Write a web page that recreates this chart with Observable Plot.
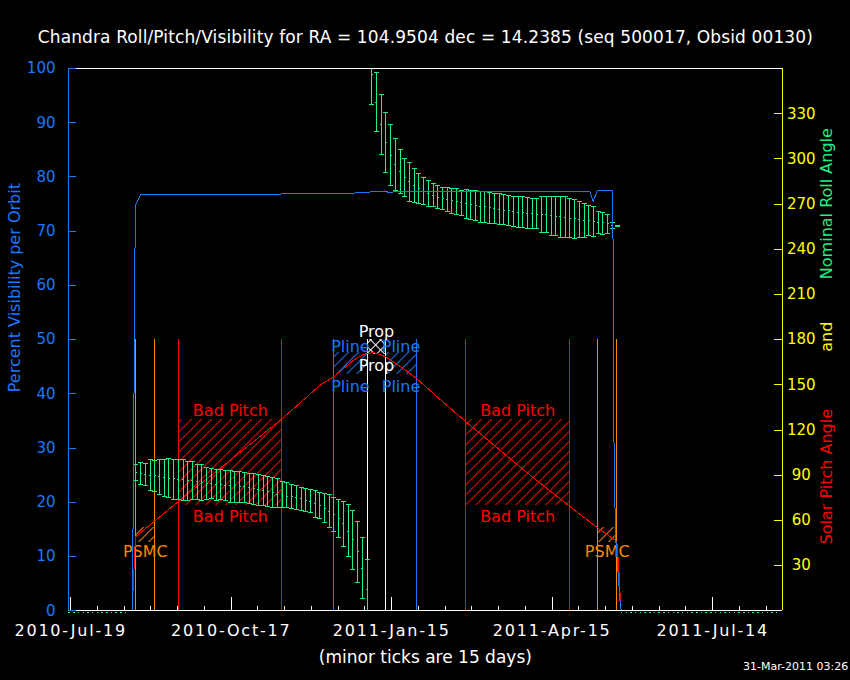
<!DOCTYPE html>
<html>
<head>
<meta charset="utf-8">
<script src="https://cdn.jsdelivr.net/npm/d3@7"></script>
<script src="https://cdn.jsdelivr.net/npm/@observablehq/plot@0.6"></script>
<style>
  html, body { margin: 0; padding: 0; background: #000; }
  #chart svg { display: block; }
  #chart svg line, #chart svg path, #chart svg rect { shape-rendering: crispEdges; }
</style>
</head>
<body>
<svg width="0" height="0" style="position:absolute">
  <defs>
    <pattern id="hatchRed" patternUnits="userSpaceOnUse" width="7.07" height="7.07" patternTransform="rotate(45)">
      <line x1="0.5" y1="0" x2="0.5" y2="7.07" stroke="#ff0000" stroke-width="1"/>
    </pattern>
    <pattern id="hatchOrange" patternUnits="userSpaceOnUse" width="7.07" height="7.07" patternTransform="rotate(45)">
      <line x1="0.5" y1="0" x2="0.5" y2="7.07" stroke="#ff8800" stroke-width="1"/>
    </pattern>
    <pattern id="hatchBlue" patternUnits="userSpaceOnUse" width="7.07" height="7.07" patternTransform="rotate(45)">
      <line x1="0.5" y1="0" x2="0.5" y2="7.07" stroke="#1a78ff" stroke-width="1"/>
    </pattern>
    <pattern id="hatchWhiteA" patternUnits="userSpaceOnUse" width="7.07" height="7.07" patternTransform="rotate(45)">
      <line x1="0.5" y1="0" x2="0.5" y2="7.07" stroke="#ffffff" stroke-width="1"/>
    </pattern>
    <pattern id="hatchWhiteB" patternUnits="userSpaceOnUse" width="7.07" height="7.07" patternTransform="rotate(-45)">
      <line x1="0.5" y1="0" x2="0.5" y2="7.07" stroke="#ffffff" stroke-width="1"/>
    </pattern>
  </defs>
</svg>
<div id="chart"></div>
<script>
// ---------------- DATA ----------------
const titleText = "Chandra Roll/Pitch/Visibility for RA = 104.9504 dec = 14.2385 (seq 500017, Obsid 00130)";
const leftLabel = "Percent Visibility per Orbit";
const rightLabels = ["Nominal Roll Angle", "and", "Solar Pitch Angle"];
const minorNote = "(minor ticks are 15 days)";
const stampText = "31-Mar-2011 03:26";

const xDomain = ["2010-07-17 18", "2011-08-21 23"];
const majorTickDates = ["2010-07-19", "2010-10-17", "2011-01-15", "2011-04-15", "2011-07-14"];
const minorTickStepDays = 15;
const leftTicks = [0, 10, 20, 30, 40, 50, 60, 70, 80, 90, 100];
const rightTicks = [30, 60, 90, 120, 150, 180, 210, 240, 270, 300, 330];
const rightMax = 360;

// Nominal roll angle per orbit (degrees): min / max / nominal
const rollDates = [
 "2010-08-24 12","2010-08-27 04","2010-08-29 19","2010-09-01 11","2010-09-04 02","2010-09-06 18","2010-09-09 09","2010-09-12 00","2010-09-14 16","2010-09-17 07",
 "2010-09-19 23","2010-09-22 15","2010-09-25 06","2010-09-27 22","2010-09-30 13","2010-10-03 05","2010-10-05 20","2010-10-08 12","2010-10-11 03","2010-10-13 18",
 "2010-10-16 10","2010-10-19 02","2010-10-21 17","2010-10-24 09","2010-10-27 00","2010-10-29 16","2010-11-01 07","2010-11-03 23","2010-11-06 14","2010-11-09 06",
 "2010-11-11 21","2010-11-14 13","2010-11-17 04","2010-11-19 20","2010-11-22 11","2010-11-25 03","2010-11-27 18","2010-11-30 10","2010-12-03 01","2010-12-05 17",
 "2010-12-08 08","2010-12-11 00","2010-12-13 15","2010-12-16 07","2010-12-18 22","2010-12-21 14","2010-12-24 05","2010-12-26 21","2010-12-29 12","2011-01-01 04",
 "2011-01-03 19","2011-01-06 11","2011-01-09 02","2011-01-11 18","2011-01-14 09","2011-01-17 01","2011-01-19 16","2011-01-22 08","2011-01-24 23","2011-01-27 15",
 "2011-01-30 06","2011-02-01 22","2011-02-04 13","2011-02-07 05","2011-02-09 20","2011-02-12 12","2011-02-15 03","2011-02-17 19","2011-02-20 10","2011-02-23 02",
 "2011-02-25 17","2011-02-28 09","2011-03-03 00","2011-03-05 16","2011-03-08 07","2011-03-10 23","2011-03-13 14","2011-03-16 06","2011-03-18 21","2011-03-21 13",
 "2011-03-24 04","2011-03-26 20","2011-03-29 11","2011-04-01 03","2011-04-03 18","2011-04-06 10","2011-04-09 01","2011-04-11 17","2011-04-14 08","2011-04-17 00",
 "2011-04-19 15","2011-04-22 07","2011-04-24 22","2011-04-27 14","2011-04-30 05","2011-05-02 21","2011-05-05 12","2011-05-08 04","2011-05-10 19","2011-05-13 11",
 "2011-05-16 02","2011-05-18 18","2011-05-21 09"
];
const rollMax = [
 97.3, 98.4, 97.8, 100.4, 100.0, 100.7, 100.7, 101.1, 100.7, 100.7,
 100.7, 99.1, 99.1, 97.3, 97.3, 95.1, 94.7, 94.0, 93.6, 92.9,
 92.9, 92.4, 92.4, 91.8, 91.3, 91.0, 90.7, 89.6, 89.1, 88.4,
 87.8, 85.8, 85.1, 84.0, 82.9, 81.8, 81.1, 80.2, 79.6, 78.4,
 78.0, 76.9, 75.1, 74.0, 72.4, 70.7, 66.9, 59.1, 48.4, 34.0,
 370.0, 357.6, 342.5, 331.1, 322.7, 313.2, 306.2, 300.0, 297.3, 293.5,
 290.3, 287.6, 285.4, 283.4, 282.1, 280.9, 280.7, 280.3, 280.3, 278.7,
 279.4, 278.7, 278.7, 278.5, 278.1, 277.6, 276.9, 276.9, 276.1, 275.6,
 275.2, 275.2, 274.7, 274.1, 273.6, 273.6, 275.2, 274.7, 274.7, 274.7,
 274.7, 274.7, 273.6, 272.9, 271.6, 270.7, 269.0, 268.2, 264.8, 264.2,
 263.0, 257.5, 255.5
];
const rollMin = [
 86.2, 84.0, 83.3, 79.6, 78.9, 77.3, 76.2, 75.1, 74.0, 73.6,
 72.9, 73.3, 73.6, 73.6, 72.9, 74.0, 74.4, 73.3, 74.0, 72.9,
 72.2, 72.2, 72.2, 71.8, 71.3, 70.7, 70.0, 69.6, 69.1, 68.4,
 68.4, 68.9, 68.4, 68.0, 67.3, 66.9, 65.6, 65.1, 62.2, 61.1,
 58.4, 55.1, 52.9, 48.4, 42.9, 35.8, 27.3, 19.1, 8.0, 0.0,
 336.0, 318.1, 302.8, 290.8, 282.3, 278.7, 276.9, 274.9, 271.7, 270.8,
 270.2, 269.5, 268.2, 268.2, 267.0, 266.4, 264.8, 263.7, 262.8, 262.2,
 260.4, 259.7, 258.8, 258.1, 257.5, 257.0, 257.0, 256.6, 256.4, 255.5,
 254.8, 254.4, 254.4, 253.7, 253.5, 253.7, 250.8, 250.8, 249.0, 249.0,
 247.7, 247.7, 247.7, 247.0, 247.7, 247.7, 249.0, 248.2, 250.4, 249.9,
 250.4, 253.7, 255.0
];
const rollMid = [
 91.8, 91.3, 90.7, 90.0, 89.6, 88.9, 88.4, 88.0, 87.8, 87.3,
 87.3, 86.2, 86.2, 85.8, 85.1, 84.7, 84.4, 84.0, 83.8, 83.3,
 82.9, 82.9, 82.4, 82.2, 81.8, 81.0, 80.4, 79.6, 79.3, 78.4,
 77.3, 77.1, 76.2, 75.6, 75.1, 74.4, 73.3, 72.4, 71.1, 70.0,
 68.2, 66.2, 64.0, 61.3, 58.0, 52.9, 47.3, 39.1, 28.4, 14.0,
 355.7, 337.7, 322.7, 310.7, 302.0, 296.2, 291.7, 287.6, 284.9, 282.3,
 280.3, 278.5, 276.7, 275.4, 274.3, 273.7, 273.0, 272.4, 271.5, 271.0,
 270.4, 269.7, 269.0, 268.4, 268.2, 267.5, 267.0, 266.4, 265.9, 265.5,
 264.8, 264.4, 264.2, 263.7, 263.7, 263.3, 263.0, 262.8, 262.2, 261.9,
 261.5, 261.0, 260.4, 260.2, 259.7, 259.3, 258.8, 258.4, 257.9, 257.5,
 257.0, 255.9, 255.3
];
// roll angle reads 0 outside the observing window (dotted line)
const zeroRollStarts = ["2010-07-18 00", "2011-05-23 18"];
const zeroRollEnds   = ["2010-08-21 14", "2011-08-21 20"];

// Percent visibility per orbit
const visDates = [
 "2010-07-18 00","2010-08-22 12","2010-08-22 19","2010-08-23 05","2010-08-23 14","2010-08-23 23","2010-08-24 14","2010-08-27 02",
 "2010-12-06 00","2011-01-02 12","2011-01-03 00","2011-01-12 12","2011-01-13 00","2011-01-15 12","2011-01-16 00",
 "2011-05-06 01","2011-05-07 23","2011-05-10 05","2011-05-18 19","2011-05-19 02","2011-05-19 14","2011-05-20 10","2011-05-23 07","2011-05-24 00","2011-08-21 20"
];
const visValues = [
 0, 0, 10, 25, 45, 65.5, 75.0, 76.7,
 76.9, 77.1, 77.3, 77.3, 77.1, 77.1, 77.3,
 77.3, 75.5, 77.45, 77.45, 68.5, 32.4, 14.3, 0.5, 0, 0
];

// Solar pitch angle (degrees)
const pitchDates = [
 "2010-08-22 10","2010-08-23 05","2010-08-24 07","2010-09-17 14","2010-10-16 14","2010-11-14 10","2010-12-06 02","2010-12-13 12",
 "2010-12-24 17","2010-12-30 07","2011-01-04 22","2011-01-11 12","2011-01-19 22","2011-01-28 17","2011-02-10 07","2011-02-25 12",
 "2011-03-31 00","2011-04-24 19","2011-05-10 12","2011-05-21 05","2011-05-22 07","2011-05-23 10"
];
const pitchValues = [
 1, 20, 49, 72.8, 100.1, 127.4, 150.0, 155.3,
 166.5, 170.3, 171.4, 168.7, 162.1, 154.4, 141.2, 125.6,
 92.5, 69.3, 55.0, 46.1, 29.5, 2
];

// Constraint intervals
const eventTypes  = ["PSMC", "Bad Pitch", "Pline", "Prop", "Pline", "Bad Pitch", "PSMC"];
const eventStarts = ["2010-08-24 12","2010-09-17 14","2010-12-13 12","2011-01-01 05","2011-01-11 17","2011-02-25 12","2011-05-10 12"];
const eventEnds   = ["2010-09-04 04","2010-11-14 10","2011-01-01 05","2011-01-11 17","2011-01-28 17","2011-04-24 19","2011-05-21 05"];

// ---------------- STYLE ----------------
const BLUE = "#1a78ff", GREEN = "#1ef084", RED = "#ff0000", ORANGE = "#ff8800", YELLOW = "#ffff00", WHITE = "#ffffff";
const FONT = "'DejaVu Sans', 'Liberation Sans', sans-serif";
const EVENT_TOP = 50;
const typeStyle = {
  "PSMC":      {color: ORANGE, box: [12.6, 15.4], hatch: ["url(#hatchOrange)"], labelY: [10.8]},
  "Bad Pitch": {color: RED,    box: [19.4, 35.2], hatch: ["url(#hatchRed)"],    labelY: [36.8, 17.4]},
  "Pline":     {color: BLUE,   box: [43.5, 47.7], hatch: ["url(#hatchBlue)"],   labelY: [48.7, 41.2]},
  "Prop":      {color: WHITE,  box: [47.3, 50.1], hatch: ["url(#hatchWhiteA)", "url(#hatchWhiteB)"], labelY: [51.4, 45.1]}
};
const typeOrder = ["PSMC", "Bad Pitch", "Pline", "Prop"];

const W = 850, H = 680, mL = 68, mR = 68.3, mT = 68, mB = 69.7;
const frameW = W - mL - mR, frameH = H - mT - mB;

// ---------------- BUILD ----------------
const parseH = d3.utcParse("%Y-%m-%d %H");
const parseD = d3.utcParse("%Y-%m-%d");
const fmtDate = d3.utcFormat("%Y-%b-%d");
const r2v = d3.scaleLinear([0, rightMax], [0, 100]);

const domain = xDomain.map(parseH);
const majors = majorTickDates.map(parseD);
const minors = [];
for (let t = majors[0]; t <= domain[1]; t = d3.utcDay.offset(t, minorTickStepDays)) minors.push(t);

const rolls = rollDates.map((d, i) => ({date: parseH(d), min: rollMin[i], max: rollMax[i], mid: rollMid[i]}));
const zeroRoll = zeroRollStarts.map((d, i) => ({start: parseH(d), end: parseH(zeroRollEnds[i]), roll: 0}));
const vis = visDates.map((d, i) => ({date: parseH(d), value: visValues[i]}));
const pitch = pitchDates.map((d, i) => ({date: parseH(d), value: pitchValues[i]}));
const events = eventTypes.map((t, i) => ({type: t, start: parseH(eventStarts[i]), end: parseH(eventEnds[i])}));
const bounds = events.flatMap(e => [{type: e.type, date: e.start}, {type: e.type, date: e.end}]);

const capSym = {draw(ctx) { ctx.moveTo(-2.5, 0); ctx.lineTo(2.5, 0); }};
const midSym = {draw(ctx) { ctx.moveTo(-1, 0); ctx.lineTo(1, 0); }};

const hatchMarks = typeOrder.flatMap(t => typeStyle[t].hatch.map(h =>
  Plot.rect(events.filter(e => e.type === t), {x1: "start", x2: "end", y1: typeStyle[t].box[0], y2: typeStyle[t].box[1], fill: h})));
const eventRuleMarks = typeOrder.map(t =>
  Plot.ruleX(bounds.filter(b => b.type === t), {x: "date", y1: 0, y2: EVENT_TOP, stroke: typeStyle[t].color, strokeWidth: 1}));
const eventLabelMarks = typeOrder.flatMap(t => typeStyle[t].labelY.map(ly =>
  Plot.text(events.filter(e => e.type === t), {x: e => new Date((+e.start + +e.end) / 2), y: ly, text: "type", fill: typeStyle[t].color, fontSize: 16})));

const chart = Plot.plot({
  width: W, height: H,
  marginLeft: mL, marginRight: mR, marginTop: mT, marginBottom: mB,
  style: {background: "#000", color: WHITE, fontFamily: FONT, fontSize: "16px", overflow: "visible"},
  x: {type: "utc", domain, axis: null},
  y: {domain: [0, 100], axis: null},
  marks: [
    ...hatchMarks,
    ...eventRuleMarks,
    ...eventLabelMarks,
    // solar pitch
    Plot.line(pitch, {x: "date", y: d => r2v(d.value), stroke: RED, strokeWidth: 1}),
    // roll error bars
    Plot.ruleX(rolls, {x: "date", y1: d => r2v(d.min), y2: d => r2v(d.max), stroke: GREEN, strokeWidth: 1, clip: true}),
    Plot.dot(rolls, {x: "date", y: d => r2v(d.max), symbol: capSym, stroke: GREEN, fill: "none", strokeWidth: 1, clip: true}),
    Plot.dot(rolls, {x: "date", y: d => r2v(d.min), symbol: capSym, stroke: GREEN, fill: "none", strokeWidth: 1, clip: true}),
    Plot.dot(rolls, {x: "date", y: d => r2v(d.mid), symbol: midSym, stroke: GREEN, fill: "none", strokeWidth: 1, clip: true}),
    // visibility
    Plot.line(vis, {x: "date", y: "value", stroke: BLUE, strokeWidth: 1}),
    // frame
    Plot.ruleY([0], {stroke: WHITE}),
    Plot.ruleY([100], {stroke: WHITE}),
    Plot.ruleX([domain[0]], {stroke: BLUE}),
    Plot.ruleX([domain[1]], {stroke: YELLOW}),
    Plot.ruleY(zeroRoll, {y: d => r2v(d.roll), x1: "start", x2: "end", stroke: GREEN, strokeDasharray: "1.5 3.2", dy: 1.5}),
    // ticks
    Plot.tickX(minors, {x: d => d, stroke: WHITE, insetTop: frameH - 4}),
    Plot.tickX(majors, {x: d => d, stroke: WHITE, insetTop: frameH - 13}),
    Plot.tickY(leftTicks, {y: d => d, stroke: BLUE, insetRight: frameW - 8}),
    Plot.tickY(rightTicks, {y: d => r2v(d), stroke: YELLOW, insetLeft: frameW - 8}),
    // tick labels
    Plot.text(leftTicks, {y: d => d, text: d => String(d), frameAnchor: "left", textAnchor: "end", dx: -13, fill: BLUE, fontSize: 15}),
    Plot.text(rightTicks, {y: d => r2v(d), text: d => String(d), frameAnchor: "right", textAnchor: "middle", dx: 19, fill: YELLOW, fontSize: 15}),
    Plot.text(majors, {x: d => d, text: d => fmtDate(d), frameAnchor: "bottom", dy: 25, fill: WHITE, fontSize: 16}),
    // titles
    Plot.text([titleText], {text: d => d, frameAnchor: "top", dy: -38, fill: WHITE, fontSize: 17}),
    Plot.text([minorNote], {text: d => d, frameAnchor: "bottom", dy: 52, fill: WHITE, fontSize: 17}),
    Plot.text([stampText], {text: d => d, frameAnchor: "bottom-right", textAnchor: "end", dx: 66, dy: 59, fill: WHITE, fontSize: 11}),
    Plot.text([leftLabel], {text: d => d, frameAnchor: "left", textAnchor: "middle", dx: -54, dy: -52, rotate: -90, fill: BLUE, fontSize: 16}),
    Plot.text([rightLabels[0]], {text: d => d, frameAnchor: "right", textAnchor: "middle", dx: 45, dy: -136, rotate: -90, fill: GREEN, fontSize: 16}),
    Plot.text([rightLabels[1]], {text: d => d, frameAnchor: "right", textAnchor: "middle", dx: 45, dy: -3, rotate: -90, fill: YELLOW, fontSize: 16}),
    Plot.text([rightLabels[2]], {text: d => d, frameAnchor: "right", textAnchor: "middle", dx: 45, dy: 137, rotate: -90, fill: RED, fontSize: 16})
  ]
});

const sel = d3.select(chart).selectAll("text");
sel.filter(function() { return /^\d{4}-[A-Za-z]{3}-\d{2}$/.test(this.textContent); })
  .style("letter-spacing", "1.8px");
sel.filter(function() { return this.textContent === titleText; })
  .style("letter-spacing", "0.12px");

document.getElementById("chart").appendChild(chart);
</script>
</body>
</html>
